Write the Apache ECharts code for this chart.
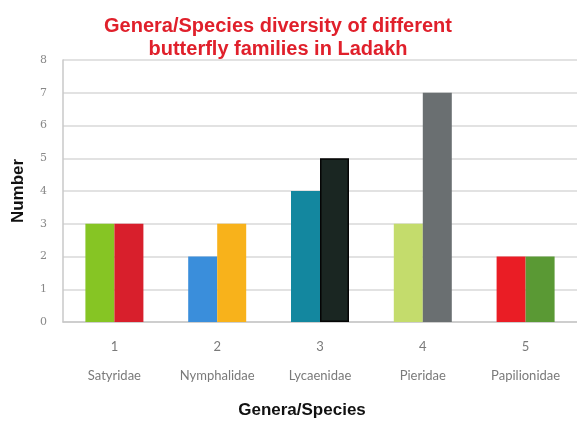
<!DOCTYPE html>
<html>
<head>
<meta charset="utf-8">
<script src="https://cdn.jsdelivr.net/npm/echarts@6/dist/echarts.min.js"></script>
<style>
  html, body { margin: 0; padding: 0; background: #fff; }
  #chart { width: 577px; height: 424px; }
</style>
</head>
<body>
<div id="chart"></div>
<script>
// categories and values
var catNumbers = ['1', '2', '3', '4', '5']
var families = ['Satyridae', 'Nymphalidae', 'Lycaenidae', 'Pieridae', 'Papilionidae']
var genera = [3, 2, 4, 3, 2]
var species = [3, 3, 5, 7, 2]
var yTicks = [0, 1, 2, 3, 4, 5, 6, 7, 8]

// each bar has its own colour in the original
var generaColors = ['#86c524', '#3a8edb', '#13879f', '#c4dc6c', '#ea1d25']
var speciesColors = ['#d81f2c', '#f8b21b', '#1a2622', '#6a6f71', '#5a9934']

var chart = echarts.init(document.getElementById('chart'))

function paint (values, colors) {
  return values.map(function (v, i) {
    var item = { value: v, itemStyle: { color: colors[i] } }
    if (colors[i] === '#1a2622') {
      item.itemStyle.borderColor = '#050505'
      item.itemStyle.borderWidth = 1.5
    }
    return item
  })
}

var option = {
  animation: false,
  backgroundColor: '#fff',
  title: {
    text: 'Genera/Species diversity of different\nbutterfly families in Ladakh',
    left: 273,
    textAlign: 'center',
    top: 10,
    textStyle: {
      fontFamily: 'Liberation Sans',
      fontWeight: 'bold',
      fontSize: 20,
      lineHeight: 23,
      color: '#e0202b'
    }
  },
  grid: {
    left: 63,
    top: 60,
    width: 519,
    height: 263
  },
  xAxis: {
    type: 'category',
    data: families,
    name: 'Genera/Species',
    nameLocation: 'middle',
    nameGap: 80,
    nameTextStyle: {
      fontFamily: 'Liberation Sans',
      fontWeight: 'bold',
      fontSize: 17,
      color: '#111',
      padding: [0, 36, 0, 0]
    },
    axisLine: { lineStyle: { color: '#c8c8c8', width: 1.5 } },
    axisTick: { show: false },
    axisLabel: {
      interval: 0,
      margin: 18,
      fontFamily: 'Lato',
      fontSize: 13,
      lineHeight: 14.5,
      color: '#7a7a7a',
      formatter: function (name, i) {
        return catNumbers[i] + '\n\n' + name
      }
    }
  },
  yAxis: {
    type: 'value',
    min: yTicks[0],
    max: yTicks[yTicks.length - 1],
    interval: 1,
    name: 'Number',
    nameLocation: 'middle',
    nameGap: 36,
    nameTextStyle: {
      fontFamily: 'Liberation Sans',
      fontWeight: 'bold',
      fontSize: 17,
      color: '#111'
    },
    axisLine: { show: true, lineStyle: { color: '#c8c8c8', width: 1.5 } },
    axisTick: { show: false },
    axisLabel: {
      margin: 16,
      fontFamily: 'DejaVu Serif',
      fontSize: 11,
      color: '#888'
    },
    splitLine: { lineStyle: { color: '#d8d8d8', width: 1.5 } }
  },
  series: [
    {
      name: 'Genera',
      type: 'bar',
      barWidth: 29,
      barGap: '0%',
      data: paint(genera, generaColors)
    },
    {
      name: 'Species',
      type: 'bar',
      barWidth: 29,
      data: paint(species, speciesColors)
    }
  ]
}

chart.setOption(option)
</script>
</body>
</html>
